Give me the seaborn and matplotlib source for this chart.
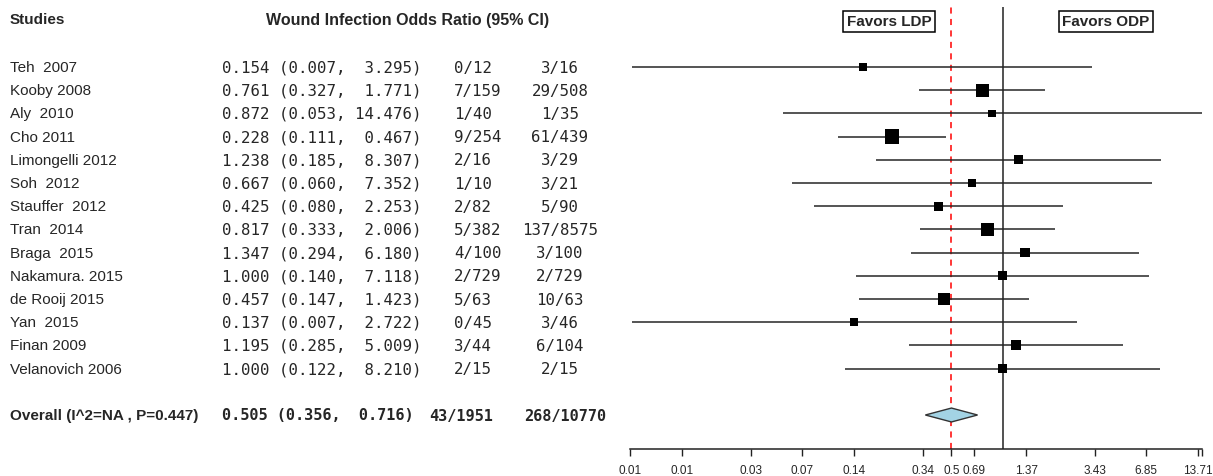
import numpy as np
import pandas as pd
import matplotlib
matplotlib.use("Agg")
import matplotlib.pyplot as plt
import matplotlib.transforms as mtransforms
from matplotlib.patches import Polygon
import seaborn as sns

# ---- study-level data -------------------------------------------------------
studies = ["Teh  2007", "Kooby 2008", "Aly  2010", "Cho 2011", "Limongelli 2012",
           "Soh  2012", "Stauffer  2012", "Tran  2014", "Braga  2015",
           "Nakamura. 2015", "de Rooij 2015", "Yan  2015", "Finan 2009",
           "Velanovich 2006"]
odds_ratio = [0.154, 0.761, 0.872, 0.228, 1.238, 0.667, 0.425, 0.817, 1.347,
              1.000, 0.457, 0.137, 1.195, 1.000]
ci_lower = [0.007, 0.327, 0.053, 0.111, 0.185, 0.060, 0.080, 0.333, 0.294,
            0.140, 0.147, 0.007, 0.285, 0.122]
ci_upper = [3.295, 1.771, 14.476, 0.467, 8.307, 7.352, 2.253, 2.006, 6.180,
            7.118, 1.423, 2.722, 5.009, 8.210]
events_ldp = ["0/12", "7/159", "1/40", "9/254", "2/16", "1/10", "2/82", "5/382",
              "4/100", "2/729", "5/63", "0/45", "3/44", "2/15"]
events_odp = ["3/16", "29/508", "1/35", "61/439", "3/29", "3/21", "5/90",
              "137/8575", "3/100", "2/729", "10/63", "3/46", "6/104", "2/15"]

# ---- pooled estimate --------------------------------------------------------
overall_label = "Overall (I^2=NA , P=0.447)"
overall_or = 0.505
overall_lower = 0.356
overall_upper = 0.716
overall_ldp = "43/1951"
overall_odp = "268/10770"

# ---- axis ticks -------------------------------------------------------------
tick_values = [0.00685, 0.0137, 0.0343, 0.0686, 0.137, 0.343, 0.505, 0.686,
               1.371, 3.43, 6.85, 13.71]
tick_labels = ["0.01", "0.01", "0.03", "0.07", "0.14", "0.34", "0.5", "0.69",
               "1.37", "3.43", "6.85", "13.71"]

# ---- styling ----------------------------------------------------------------
sns.set_style("white")
plt.rcParams["font.family"] = ["Liberation Sans", "DejaVu Sans"]
SANS = ["Liberation Sans", "DejaVu Sans"]
MONO = ["DejaVu Sans Mono"]

W_PX, H_PX = 1213, 477
fig = plt.figure(figsize=(W_PX / 100, H_PX / 100), dpi=100)

# forest panel (pixel geometry of the panel)
left_px, right_px, top_px, bottom_px = 600, 1213, 8, 450
ax = fig.add_axes([left_px / W_PX, (H_PX - bottom_px) / H_PX,
                   (right_px - left_px) / W_PX, (bottom_px - top_px) / H_PX])

# rows: row i sits at 68 + 23.2*i px from top
row_px0, row_step = 68, 23.2
y_top = (top_px - row_px0) / row_step
y_bot = (bottom_px - row_px0) / row_step

df = pd.DataFrame({
    "study": studies,
    "or": odds_ratio,
    "lo": ci_lower,
    "hi": ci_upper,
    "row": np.arange(len(studies), dtype=float),
})
# inverse-variance weight on the log scale -> box size
se = (np.log(df["hi"]) - np.log(df["lo"])) / (2 * 1.96)
side_px = 5.5 + 3.2 * np.sqrt(1.0 / se**2)
df["area"] = (side_px * 72 / 100) ** 2
overall_row = len(studies) + 1

ax.set_xscale("log")
ax.set_xlim(np.exp((left_px - 1002.5) / 74.7), np.exp((right_px - 1002.5) / 74.7))
ax.set_ylim(y_bot, y_top)

# reference lines
ax.axvline(1.0, color="#222222", lw=1.1, zorder=1)
ax.axvline(overall_or, color="#ff0000", lw=1.1, ls=(0, (4, 3.5)), zorder=1)

# confidence intervals
ax.hlines(df["row"], df["lo"], df["hi"], color="#262626", lw=1.1, zorder=2)

# point estimates
sns.scatterplot(data=df, x="or", y="row", size="area",
                sizes=(df["area"].min(), df["area"].max()),
                marker="s", color="black", edgecolor="none", linewidth=0,
                legend=False, ax=ax, zorder=3)

# pooled diamond
h = 0.30
diamond = Polygon([(overall_lower, overall_row), (overall_or, overall_row - h),
                   (overall_upper, overall_row), (overall_or, overall_row + h)],
                  closed=True, facecolor="#a3d3e4", edgecolor="#333333",
                  lw=1.0, zorder=3)
ax.add_patch(diamond)

# axis
for s in ("left", "right", "top"):
    ax.spines[s].set_visible(False)
ax.spines["bottom"].set_color("#222222")
ax.spines["bottom"].set_linewidth(1.1)
ax.spines["bottom"].set_bounds(tick_values[0], max(ci_upper))
ax.set_xticks(tick_values + [max(ci_upper)])
ax.set_xticklabels(tick_labels + [""], fontsize=8.5, family=SANS)
ax.minorticks_off()
ax.tick_params(axis="x", direction="out", length=5, width=1.0, color="#222222",
               pad=6, bottom=True)
ax.set_yticks([])
ax.set_xlabel("")
ax.set_ylabel("")
ax.grid(False)

# "favors" boxes
for label, xc in (("Favors LDP", 889), ("Favors ODP", 1106)):
    fig.text(xc / W_PX, 1 - 22.5 / H_PX, label, ha="center", va="center",
             fontsize=11, fontweight="bold", family=SANS,
             bbox=dict(boxstyle="square,pad=0.22", facecolor="white",
                       edgecolor="black", lw=1.1))

# table on the left: x in pixels, y in row units
tr = mtransforms.blended_transform_factory(fig.transFigure, ax.transData)
def fx(px):
    return px / W_PX

head_row = (20 - row_px0) / row_step
fig.text(fx(10), head_row, "Studies", transform=tr, ha="left", va="center",
         fontsize=11, fontweight="bold", family=SANS)
fig.text(fx(408), head_row, "Wound Infection Odds Ratio (95% CI)", transform=tr,
         ha="center", va="center", fontsize=11.5, fontweight="bold", family=SANS)

for i, r in df.iterrows():
    y = r["row"]
    fig.text(fx(10), y, r["study"], transform=tr, ha="left", va="center",
             fontsize=11, family=SANS)
    fig.text(fx(222), y, f"{r['or']:.3f} ({r['lo']:.3f}, {r['hi']:>6.3f})",
             transform=tr, ha="left", va="center", fontsize=11.3, family=MONO)
    fig.text(fx(454), y, events_ldp[i], transform=tr, ha="left", va="center",
             fontsize=11.3, family=MONO)
    fig.text(fx(560), y, events_odp[i], transform=tr, ha="center", va="center",
             fontsize=11.3, family=MONO)

fig.text(fx(10), overall_row, overall_label, transform=tr, ha="left",
         va="center", fontsize=11, fontweight="bold", family=SANS)
fig.text(fx(222), overall_row,
         f"{overall_or:.3f} ({overall_lower:.3f}, {overall_upper:>6.3f})",
         transform=tr, ha="left", va="center", fontsize=11, fontweight="bold",
         family=MONO)
fig.text(fx(429), overall_row, overall_ldp, transform=tr, ha="left",
         va="center", fontsize=11, fontweight="bold", family=MONO)
fig.text(fx(565), overall_row, overall_odp, transform=tr, ha="center",
         va="center", fontsize=11, fontweight="bold", family=MONO)

fig.savefig("out.png", dpi=100, facecolor="white")
